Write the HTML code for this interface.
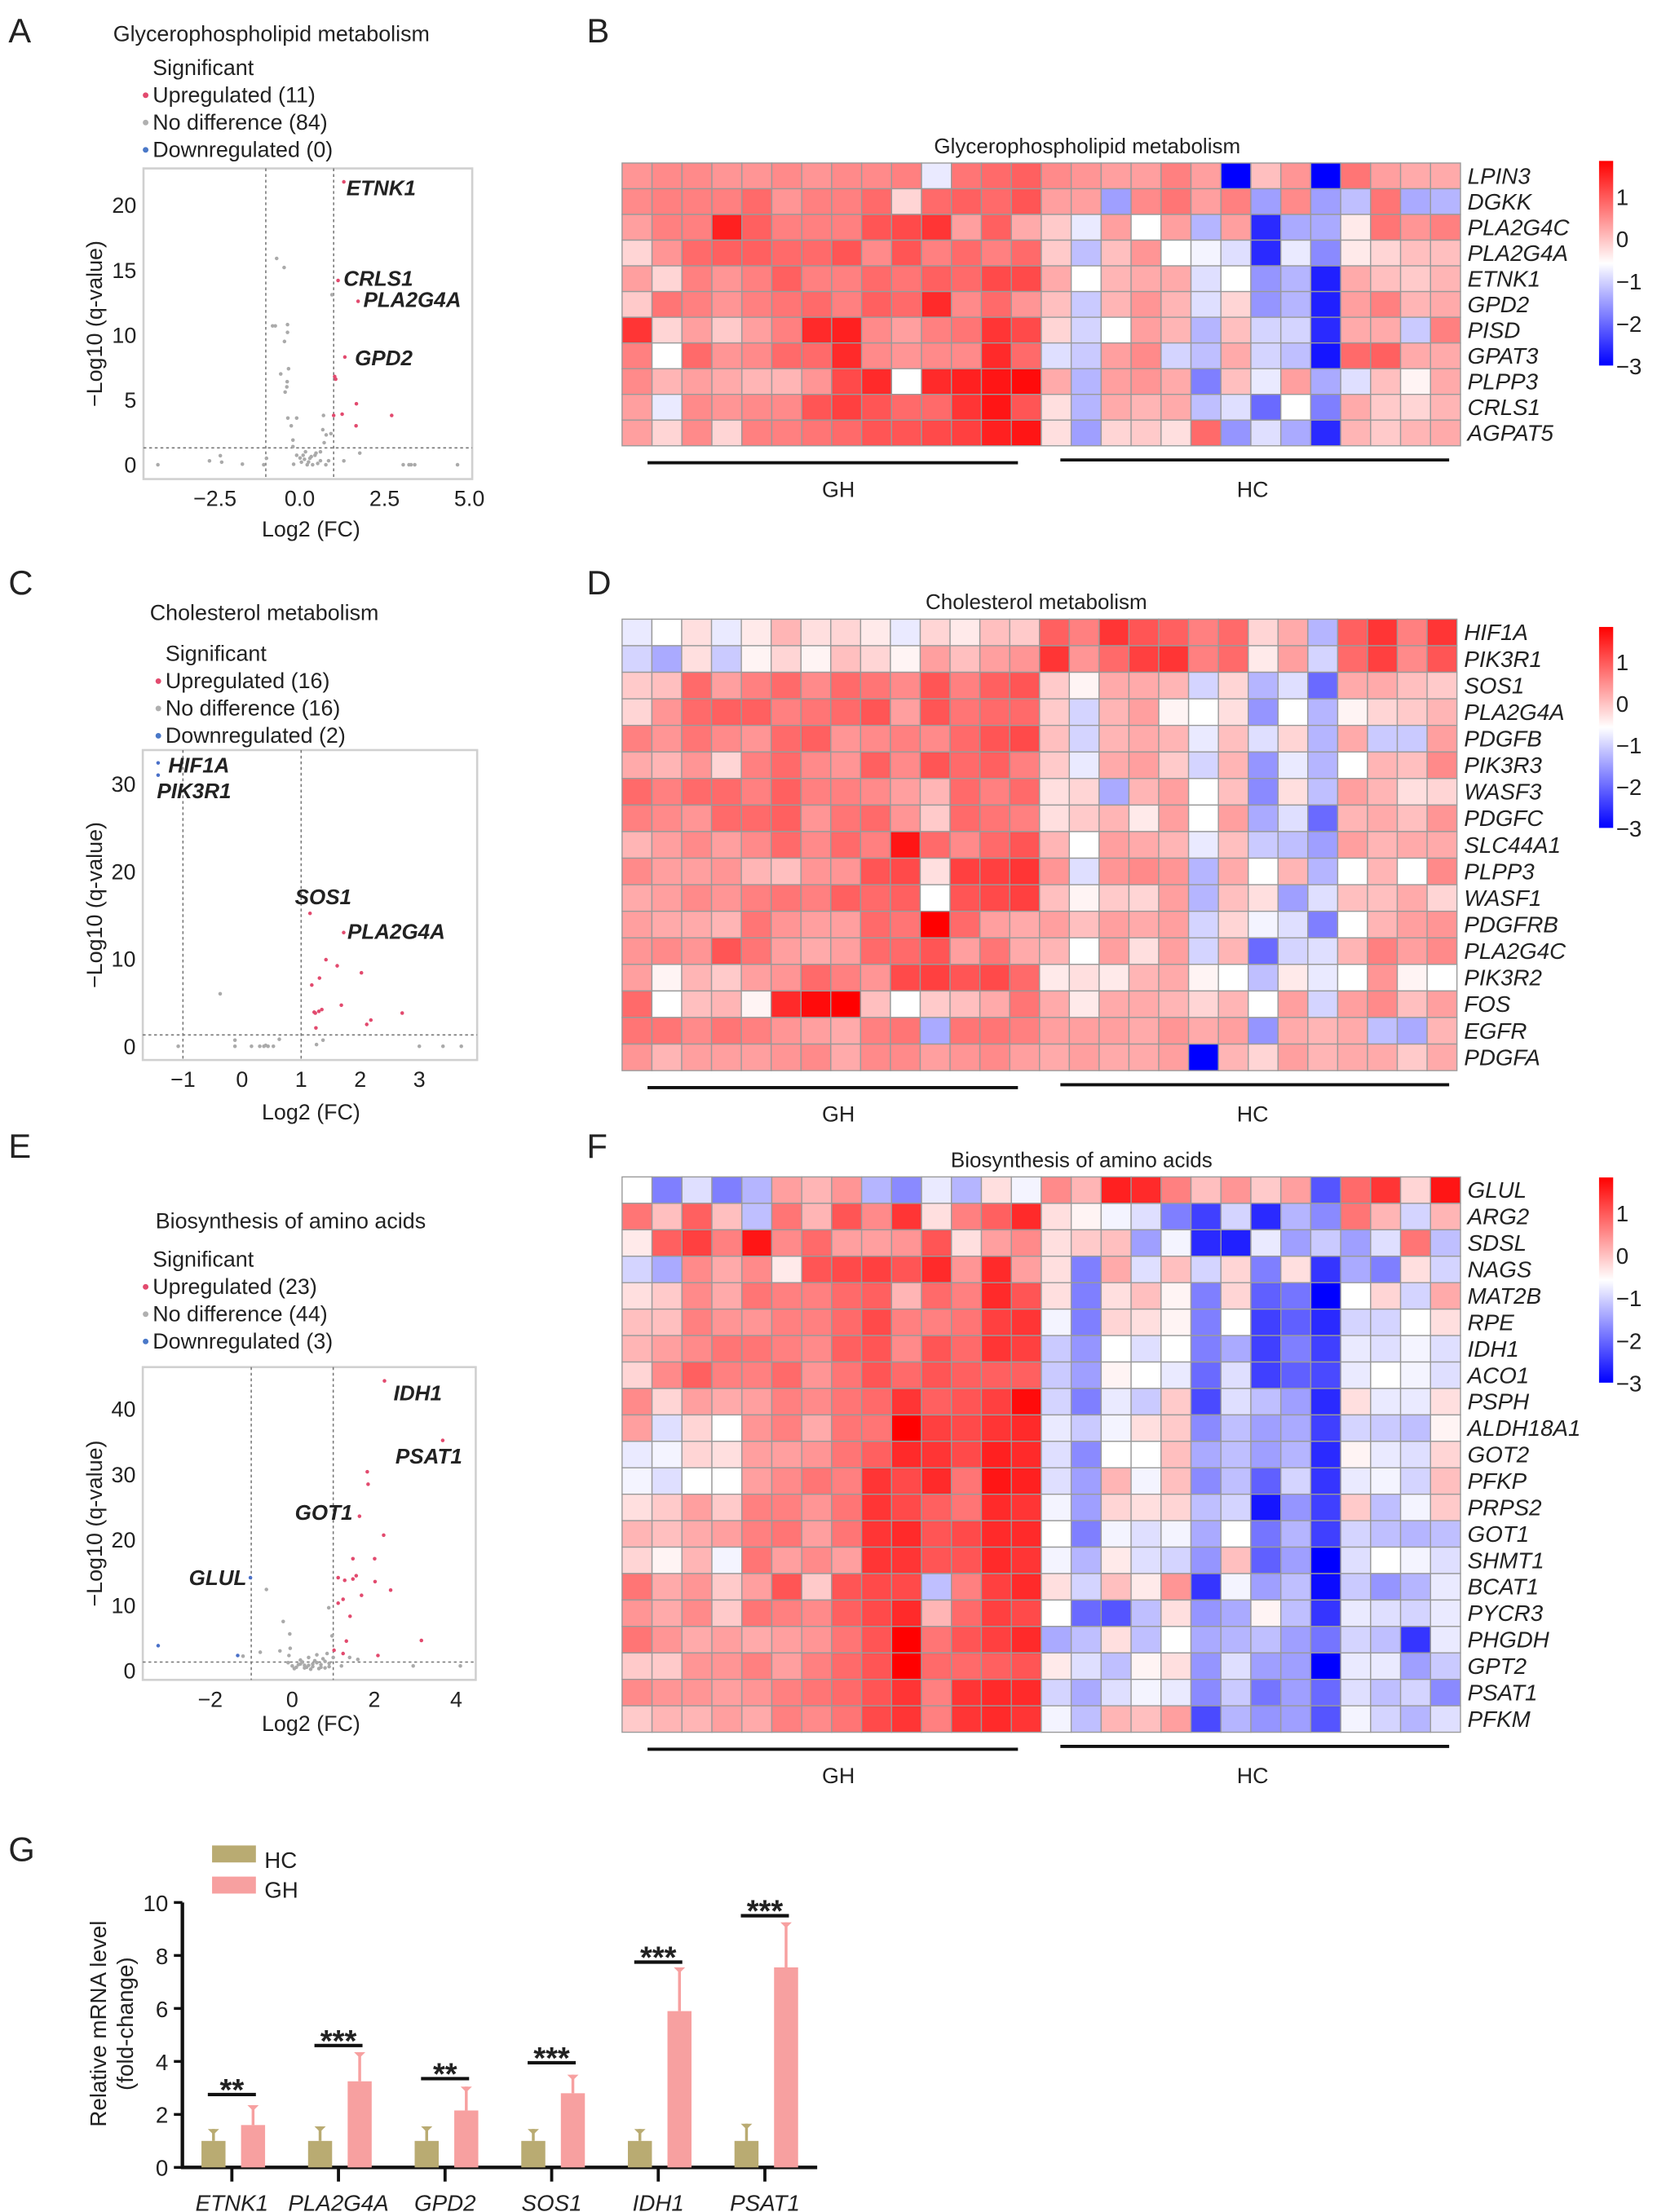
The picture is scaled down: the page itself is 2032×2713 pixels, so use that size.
<!DOCTYPE html>
<html><head><meta charset="utf-8"><title>Metabolism figure</title>
<style>
html,body{margin:0;padding:0;background:#fff;}
svg{display:block;}
text{font-family:"Liberation Sans",Arial,sans-serif;fill:#222;}
</style></head>
<body>
<svg id="fig" xmlns="http://www.w3.org/2000/svg" width="2032" height="2713" viewBox="0 0 1172 1563" preserveAspectRatio="none">
<defs>
<linearGradient id="cbar" x1="0" y1="0" x2="0" y2="1">
<stop offset="0" stop-color="#ff0000"/><stop offset="0.5" stop-color="#ffffff"/><stop offset="1" stop-color="#0000ff"/>
</linearGradient>
</defs>
</svg>
<script>
// ---------------- DATA ----------------
// Panel A volcano (log2FC, -log10 q)
const aUpX=[1.30,1.13,1.72,1.33,1.03,1.06,1.67,1.00,1.25,2.71,1.66];
const aUpY=[21.8,14.2,12.6,8.3,6.8,6.6,4.7,3.8,3.9,3.8,3.0];
const aNsX=[-0.68,-0.46,-0.80,-0.72,-0.36,-0.36,-0.45,0.95,-0.33,-0.56,-0.37,-0.38,-0.43,-0.35,-0.09,-0.25,0.70,0.68,0.78,0.92,0.72,-0.20,-0.20,0.17,0.61,1.77,-0.09,0.01,0.14,0.26,0.34,0.45,0.53,0.61,0.22,0.38,0.77,0.85,-0.18,0.10,-4.18,-2.66,-2.34,-2.30,-1.69,-1.06,-0.98,1.30,3.05,3.22,3.28,3.39,4.65,0.30,0.05,0.48];
const aNsY=[15.9,15.2,10.7,10.7,10.8,10.2,9.5,13.1,7.4,7.0,6.4,6.0,5.6,3.6,3.6,3.0,3.8,2.7,2.3,2.4,1.7,1.9,1.4,1.0,1.0,0.9,0.73,0.52,0.42,0.21,0.63,0.73,0.1,0.31,0.0,0.0,0.0,0.31,0.04,0.73,0,0.3,0.7,0.2,0.05,0,0.5,0.3,0,0,0,0,0,0.5,0.2,0.9];
// Panel C volcano
const cUpX=[1.15,1.72,1.42,1.61,2.02,1.31,1.18,1.68,1.22,1.35,2.71,2.18,2.11,1.25,1.30,1.24];
const cUpY=[15.2,13.0,9.9,9.2,8.4,7.8,7.0,4.7,3.9,4.2,3.8,3.0,2.5,2.1,4.0,3.8];
const cNsX=[-0.37,-1.08,-0.12,-0.12,0.16,0.37,0.44,0.53,0.63,1.26,1.37,3.0,3.4,3.71,0.40,0.30];
const cNsY=[6.0,0,0.7,0,0,0,0,0,0.8,0.2,0.7,0,0,0,0.1,0];
const cDnX=[-1.42,-1.42];
const cDnY=[32.4,31.0];
// Panel E volcano
const eUpX=[2.25,3.67,1.83,1.85,1.64,2.23,1.48,2.01,1.56,1.12,1.28,1.48,2.02,2.40,1.69,1.24,1.12,1.41,3.15,1.32,1.24,1.02,2.09];
const eUpY=[44.3,35.2,30.4,28.5,23.6,20.7,17.1,17.1,14.5,14.2,13.8,14.0,13.6,12.3,11.5,10.9,10.3,8.3,4.6,4.5,2.6,3.1,2.3];
const eNsX=[-0.63,0.89,-0.22,-0.06,0.97,-0.78,-0.08,-0.05,0.0,0.1,0.2,0.3,0.4,0.5,0.6,0.7,0.8,0.9,0.15,0.35,0.55,0.75,2.95,4.1,1.6,1.2,0.65,0.45,-0.1,1.0,0.25,0.85,-1.2,0.05,0.5,0.7,0.3,0.9,0.6,0.2,0.4,0.8,-0.3,1.4];
const eNsY=[12.4,9.6,7.5,5.6,5.3,2.8,2.3,3.4,0.7,0.5,1.0,0.4,0.8,0.6,1.2,0.9,1.4,0.6,0.9,0.5,1.5,1.8,0.7,0.7,1.7,0.7,0.3,0.2,1.2,2.0,1.3,2.6,2.2,0.3,1.0,0.5,0.8,1.1,2.4,1.6,2.0,0.4,3.0,2.0];
const eDnX=[-3.27,-1.33,-1.02];
const eDnY=[3.8,2.3,14.2];

// Panel B heatmap
const bGenes=["LPIN3","DGKK","PLA2G4C","PLA2G4A","ETNK1","GPD2","PISD","GPAT3","PLPP3","CRLS1","AGPAT5"];
const bValues=[
[0.4,0.5,0.5,0.4,0.4,0.5,0.4,0.5,0.5,0.6,-0.8,0.7,0.8,0.9, 0.5,0.4,0.3,0.3,0.6,0.3,-3.0,0.0,0.4,-3.0,0.7,0.3,0.2,0.2],
[0.5,0.6,0.6,0.6,0.8,0.4,0.6,0.6,0.8,-0.2,0.8,0.9,0.8,1.0, 0.3,0.3,-1.5,0.5,0.7,0.3,0.6,-1.5,0.5,-1.5,-1.2,0.7,-1.4,-1.3],
[0.3,0.6,0.6,1.5,0.9,0.6,0.6,0.6,1.0,1.1,1.3,0.3,0.9,0.2, -0.1,-0.8,0.3,-0.6,0.3,-1.3,0.3,-2.6,-1.4,-1.4,-0.4,0.7,0.4,0.6],
[-0.2,0.4,0.8,0.9,0.9,0.8,0.8,1.0,0.5,1.0,0.6,0.8,0.6,0.8, -0.1,-1.2,0.0,0.4,-0.6,-0.7,-0.9,-2.6,-0.8,-1.7,-0.4,-0.2,0.0,0.0],
[0.3,-0.2,0.6,0.4,0.6,0.9,0.6,0.6,0.8,0.7,0.9,0.8,1.1,1.1, 0.2,-0.6,0.1,0.2,0.2,-0.9,-0.6,-1.6,-1.3,-2.7,0.2,0.0,-0.1,0.1],
[-0.1,0.7,0.6,0.4,0.6,0.7,0.8,0.6,0.9,0.8,1.4,0.5,0.8,0.4, 0.0,-1.1,0.1,0.4,0.1,-0.9,-0.2,-1.6,-1.3,-2.7,0.3,0.6,0.1,0.2],
[1.3,-0.2,0.3,-0.1,0.3,0.6,1.4,1.5,0.5,0.3,0.6,0.7,1.3,1.1, -0.2,-1.0,-0.6,0.3,0.1,-1.3,0.0,-1.0,-1.0,-2.6,0.2,0.2,-1.1,0.6],
[0.6,-0.6,0.8,0.4,0.5,0.8,0.8,1.4,0.5,0.4,0.5,0.5,1.4,0.8, -0.9,-1.1,0.3,0.5,-1.0,-1.2,0.2,-1.0,-1.2,-2.8,0.8,0.9,0.2,0.2],
[0.5,0.1,0.3,0.2,0.1,0.1,0.4,1.1,1.4,-0.6,1.4,1.5,1.6,1.7, 0.2,-1.3,0.3,0.4,0.2,-1.8,0.0,-0.8,0.3,-1.4,-0.9,0.0,-0.5,0.2],
[0.3,-0.8,0.5,0.4,0.5,0.5,1.0,1.2,1.0,0.8,0.8,1.3,1.6,1.0, -0.3,-1.3,0.2,0.1,0.2,-1.2,-0.9,-2.0,-0.6,-1.8,0.2,-0.1,-0.2,0.1],
[0.3,-0.2,0.5,-0.2,0.6,0.6,0.7,0.8,1.0,1.0,1.1,1.2,1.5,1.6, -0.3,-1.5,-0.2,-0.1,-0.3,0.8,-1.6,-0.9,-1.4,-2.6,0.1,-0.1,0.1,0.2]];

// Panel D heatmap
const dGenes=["HIF1A","PIK3R1","SOS1","PLA2G4A","PDGFB","PIK3R3","WASF3","PDGFC","SLC44A1","PLPP3","WASF1","PDGFRB","PLA2G4C","PIK3R2","FOS","EGFR","PDGFA"];
const dValues=[
[-0.8,-0.6,-0.3,-0.8,-0.4,0.1,-0.3,-0.2,-0.4,-0.8,-0.2,-0.4,0.0,-0.1, 0.9,0.6,1.3,1.0,0.9,0.6,0.8,-0.2,0.2,-1.3,0.9,1.3,0.6,1.3],
[-1.0,-1.4,-0.3,-1.1,-0.5,-0.2,-0.5,0.0,-0.2,-0.5,0.3,0.0,0.3,0.4, 1.3,0.4,0.8,1.2,1.3,0.6,0.8,-0.4,0.3,-1.0,0.8,1.2,0.5,1.0],
[-0.1,0.0,0.8,0.3,0.6,0.8,0.5,0.8,0.7,0.5,1.0,0.6,0.9,1.0, -0.1,-0.5,0.2,0.2,0.1,-1.0,-0.2,-1.3,-0.9,-2.0,0.2,0.2,0.0,-0.1],
[-0.2,0.4,0.8,0.9,0.9,0.6,0.7,0.8,1.0,0.3,1.0,0.7,0.8,0.8, -0.1,-1.0,0.1,0.3,-0.5,-0.6,-0.3,-1.6,-0.6,-1.3,-0.5,-0.2,-0.1,0.1],
[0.6,0.4,0.7,0.5,0.4,0.8,0.9,0.4,0.5,0.6,0.5,0.8,1.0,1.1, 0.0,-1.0,0.1,0.2,0.1,-0.8,0.0,-0.9,-0.2,-1.3,0.2,-1.1,-1.1,0.3],
[0.2,0.1,0.4,-0.2,0.6,0.8,0.5,0.4,0.9,0.5,1.0,0.8,0.9,0.6, -0.1,-0.8,0.2,0.3,-0.1,-1.0,0.1,-1.6,-0.8,-1.3,-0.6,0.1,0.0,0.5],
[0.8,0.6,0.8,0.8,0.6,0.9,0.6,0.6,0.5,0.3,0.1,0.8,0.6,0.8, -0.3,-0.2,-1.4,0.1,0.3,-0.6,0.0,-1.7,-0.3,-1.2,0.3,0.1,-0.3,-0.2],
[0.6,0.5,0.4,0.8,0.8,0.9,0.4,0.7,0.8,0.4,-0.1,0.8,0.7,0.6, -0.3,-0.1,0.1,-0.4,0.3,-0.6,0.3,-1.4,-0.9,-2.0,0.1,0.2,0.0,0.4],
[0.1,0.3,0.5,0.3,0.5,0.8,0.5,0.8,0.6,1.6,0.8,0.5,0.8,1.0, 0.1,-0.6,0.3,0.2,0.1,-0.8,0.0,-1.1,-1.2,-1.5,0.3,0.1,0.2,0.2],
[0.5,0.3,0.3,0.4,0.1,0.0,0.4,0.4,1.0,1.1,-0.3,1.2,1.2,1.3, 0.4,-0.9,0.4,0.5,0.4,-1.3,0.2,-0.6,0.1,-1.3,-0.6,0.1,-0.6,0.5],
[0.2,0.3,0.5,0.4,0.6,0.7,0.6,0.9,0.8,0.9,-0.6,1.0,1.1,1.2, 0.0,-0.5,-0.1,-0.2,0.3,-1.3,0.0,-0.3,-1.5,-0.9,0.0,0.0,0.2,-0.2],
[0.3,0.2,0.2,0.1,0.7,0.4,0.3,0.3,0.8,0.7,1.8,0.8,0.3,0.2, 0.3,0.0,0.3,0.2,0.3,-1.0,-0.2,-0.7,-0.9,-1.8,-0.6,0.1,0.3,0.4],
[0.4,0.5,0.4,1.0,0.7,0.3,0.2,0.3,0.8,0.8,1.0,0.3,0.7,0.2, 0.1,-0.6,0.3,-0.3,0.3,-1.0,0.1,-2.0,-1.0,-0.9,0.1,0.6,0.3,0.5],
[0.3,-0.5,0.1,-0.1,0.3,0.4,0.8,0.6,0.4,1.1,1.2,1.0,1.1,0.8, -0.4,-0.3,-0.4,0.1,0.2,-0.5,-0.6,-1.2,-0.4,-0.8,-0.6,0.4,-0.5,-0.6],
[0.8,-0.6,0.0,0.1,-0.5,1.4,1.7,1.8,0.0,-0.6,-0.1,0.0,0.2,0.7, 0.2,-0.4,0.2,0.2,0.1,-0.2,0.1,-0.6,0.3,-1.0,0.3,0.5,0.0,0.3],
[0.7,0.7,0.5,0.7,0.6,0.4,0.3,0.2,0.6,0.7,-1.4,0.7,0.7,0.6, 0.3,0.3,0.3,0.2,0.4,0.2,0.3,-1.6,0.2,0.1,0.2,-1.2,-1.4,0.1],
[0.4,0.1,0.3,0.3,0.3,0.4,0.5,0.2,0.5,0.5,0.3,0.4,0.5,0.3, 0.2,0.3,0.2,0.2,0.3,-3.0,0.1,-0.2,0.3,0.1,0.2,0.2,-0.1,0.2]];

// Panel F heatmap
const fGenes=["GLUL","ARG2","SDSL","NAGS","MAT2B","RPE","IDH1","ACO1","PSPH","ALDH18A1","GOT2","PFKP","PRPS2","GOT1","SHMT1","BCAT1","PYCR3","PHGDH","GPT2","PSAT1","PFKM"];
const fValues=[
[-0.6,-1.8,-0.9,-1.8,-1.3,0.3,0.1,0.4,-1.3,-1.7,-0.8,-1.3,-0.3,-0.7, 0.5,0.1,1.5,1.4,0.6,0.0,0.4,-0.1,0.3,-2.2,0.8,1.3,-0.2,1.6],
[0.7,0.0,0.9,0.0,-1.2,0.7,0.1,1.0,0.5,1.3,-0.3,0.6,0.9,1.4, -0.3,-0.5,-0.7,-0.9,-1.8,-2.4,-1.0,-2.6,-1.3,-1.7,0.7,0.1,-1.0,0.1],
[-0.4,0.9,1.2,0.6,1.6,0.5,0.8,0.3,0.3,0.4,1.0,-0.3,0.3,0.5, -0.3,-0.1,0.0,-1.5,-0.7,-2.6,-2.7,-0.8,-1.5,-1.1,-1.5,-0.9,0.7,-1.2],
[-1.0,-1.4,0.5,0.2,0.5,-0.4,1.0,1.1,1.2,1.0,1.4,0.4,1.4,0.3, -0.3,-1.8,0.2,-0.9,0.0,-1.0,-0.2,-1.8,-0.3,-2.5,-1.4,-1.8,-0.3,-1.0],
[-0.3,-0.1,0.5,0.2,0.7,0.6,0.6,0.8,0.9,0.1,0.8,0.6,1.4,1.0, -0.3,-1.8,-0.3,0.0,-0.5,-1.8,-0.2,-2.1,-1.9,-3.0,-0.6,-0.2,-1.0,0.2],
[0.0,0.0,0.6,0.4,0.4,0.6,0.6,0.8,1.1,0.6,0.6,0.7,1.2,1.3, -0.7,-1.8,-0.2,-0.3,-0.5,-1.8,-0.6,-2.4,-2.1,-2.6,-1.0,-1.0,-0.6,-0.3],
[0.1,0.3,0.5,0.7,0.7,0.6,0.5,0.9,1.0,0.5,1.0,0.8,1.3,1.2, -1.1,-1.6,-0.6,-0.9,-0.6,-1.8,-1.4,-2.4,-1.8,-2.4,-0.8,-0.9,-0.7,-0.9],
[-0.2,0.5,0.9,0.6,0.6,0.8,0.4,0.7,1.0,0.8,1.0,0.9,0.9,0.9, -1.1,-1.5,-0.5,-0.6,-0.8,-2.0,-0.9,-2.4,-2.1,-2.3,-0.8,-0.6,-0.7,-0.9],
[0.5,-0.2,0.3,0.2,0.3,0.6,0.5,0.7,0.8,1.3,0.9,1.0,1.2,1.7, -1.0,-1.8,-0.8,-1.1,-0.1,-2.3,-0.9,-1.2,-1.5,-2.6,-0.3,-0.8,-0.8,-0.3],
[0.3,-0.9,-0.2,-0.6,0.4,0.6,0.2,0.7,0.7,1.8,1.2,1.1,1.3,1.4, -0.8,-1.1,-0.7,-0.3,-0.1,-1.7,-1.2,-1.5,-1.4,-2.4,-1.0,-1.1,-1.2,-0.5],
[-0.8,-0.7,-0.2,-0.3,0.3,0.3,0.4,0.7,0.9,1.4,1.3,1.1,1.5,1.4, -0.9,-1.7,-0.6,-0.6,0.0,-1.4,-1.2,-1.5,-1.3,-2.6,-0.5,-0.8,-0.9,-0.2],
[-0.7,-0.9,-0.6,-0.6,0.3,0.5,0.7,0.6,1.3,1.1,1.4,0.7,1.6,1.5, -0.9,-1.5,0.1,-0.7,0.0,-1.7,-1.2,-2.1,-1.0,-2.5,-0.8,-0.7,-1.0,0.0],
[-0.3,-0.1,0.3,-0.1,0.6,0.6,0.4,0.7,1.3,1.1,0.9,0.7,1.4,1.3, -0.7,-1.5,-0.2,-0.3,-0.2,-1.2,-1.0,-2.8,-1.6,-2.4,-0.1,-1.2,-0.7,-0.1],
[0.1,0.0,0.2,0.3,0.6,0.7,0.3,0.7,1.3,1.4,1.0,1.1,1.4,1.4, -0.6,-1.8,-0.7,-0.9,-0.7,-1.4,-0.6,-1.9,-1.3,-2.4,-1.0,-1.2,-1.3,-1.2],
[-0.2,-0.5,0.1,-0.7,0.7,0.3,0.5,0.3,1.3,1.3,1.0,1.0,1.4,1.3, -0.7,-1.3,-0.4,-0.9,-1.0,-1.6,0.0,-2.1,-1.5,-3.0,-0.9,-0.6,-0.7,-0.9],
[0.7,0.2,0.4,-0.1,0.3,1.0,-0.1,1.0,1.1,1.1,-1.2,0.6,1.2,1.4, -0.3,-1.0,0.0,-0.4,0.4,-2.5,-0.7,-1.5,-1.2,-2.9,-1.1,-1.6,-1.3,-0.8],
[0.4,0.2,0.5,-0.1,0.7,0.6,0.5,0.9,1.1,1.4,0.1,0.8,1.2,1.1, -0.6,-2.0,-2.2,-1.2,-0.3,-1.6,-1.4,-0.5,-1.2,-2.5,-0.8,-0.9,-1.0,-0.8],
[0.7,0.4,0.2,0.3,0.2,0.3,0.4,0.7,1.0,1.8,0.7,1.0,1.2,1.4, -1.4,-1.2,-0.3,-1.2,-0.6,-1.4,-1.3,-1.2,-1.5,-1.9,-1.0,-1.2,-2.5,-0.8],
[-0.1,-0.1,0.4,0.4,0.6,0.3,0.6,0.8,1.0,1.8,0.8,0.8,0.9,1.0, -0.4,-0.9,-1.2,-0.5,-0.3,-1.6,-0.9,-1.5,-1.5,-3.0,-0.8,-0.8,-1.5,-1.1],
[0.5,0.4,0.4,0.3,0.4,0.6,0.7,0.8,1.0,1.3,0.6,1.3,1.4,1.4, -1.0,-1.4,-0.9,-0.7,-0.8,-1.7,-1.1,-1.9,-1.5,-2.0,-0.9,-1.2,-1.0,-1.7],
[-0.1,0.1,0.1,0.3,0.2,0.6,0.5,0.7,1.1,1.3,0.6,1.3,1.4,1.3, -0.7,-1.2,0.1,0.0,0.3,-2.3,-1.3,-1.6,-1.5,-2.2,-0.7,-1.0,-1.3,-0.9]];

// Panel G bar chart
const gGenes=["ETNK1","PLA2G4A","GPD2","SOS1","IDH1","PSAT1"];
const gHC=[1,1,1,1,1,1];
const gHCerr=[0.45,0.55,0.55,0.45,0.45,0.65];
const gGH=[1.6,3.25,2.15,2.8,5.9,7.55];
const gGHerr=[0.75,1.1,0.9,0.7,1.65,1.7];
const gSig=["**","***","**","***","***","***"];
const gSigLevel=[2.75,4.6,3.35,3.95,7.75,9.5];
const gTicks=[0,2,4,6,8,10];

// ---------------- DRAW ----------------
const NS="http://www.w3.org/2000/svg";
const svg=document.getElementById('fig');
function mk(tag,attrs,parent){const e=document.createElementNS(NS,tag);for(const k in attrs)e.setAttribute(k,attrs[k]);(parent||svg).appendChild(e);return e;}
function txt(str,attrs,parent){const e=mk('text',attrs,parent);e.textContent=str;return e;}
function grp(name){const g=mk('g',{});return g;}

function zcol(v){
  if(v>=-0.6){const t=Math.min(1,(v+0.6)/2.4);const g=Math.round(255*(1-t));return 'rgb(255,'+g+','+g+')';}
  const t=Math.min(1,(-0.6-v)/2.4);const g=Math.round(255*(1-t));return 'rgb('+g+','+g+',255)';
}

// panel letters
[["A",6,30],["B",415,30],["C",6,420],["D",415,420],["E",6,818],["F",415,818],["G",6,1315]].forEach(p=>{
  const t=txt(p[0],{x:p[1],y:p[2],'font-size':24});
  
  
});

function volcano(cfg){
  const g=grp(cfg.name);
  const xs=v=>cfg.x0+cfg.xu*v, ys=v=>cfg.y0-cfg.yu*v;
  const title=txt(cfg.title,{x:cfg.tx,y:cfg.ty,'font-size':15.5},g);
  
  
  const lg=[["Significant",null],["Upregulated ("+cfg.nUp+")","#e24a6e"],["No difference  ("+cfg.nNs+")","#b0b0b0"],["Downregulated ("+cfg.nDn+")","#4a78c8"]];
  lg.forEach((l,i)=>{
    const y=cfg.ly+i*19.3;
    const t=txt(l[0],{x:cfg.lx,y:y,'font-size':15.5},g);
    
    
    if(l[1]){const c=mk('circle',{cx:cfg.lx-5,cy:y-5,r:2,fill:l[1]},g);
      
      }
  });
  const box=mk('rect',{x:cfg.bx0,y:cfg.by0,width:cfg.bx1-cfg.bx0,height:cfg.by1-cfg.by0,fill:'#fff',stroke:'#d0d0d0','stroke-width':1.5},g);
  
  
  [-1,1].forEach(v=>{const l=mk('line',{x1:xs(v),x2:xs(v),y1:cfg.by0,y2:cfg.by1,stroke:'#777','stroke-width':0.9,'stroke-dasharray':'2,2'},g);
    
    });
  const h=mk('line',{x1:cfg.bx0,x2:cfg.bx1,y1:ys(1.3),y2:ys(1.3),stroke:'#777','stroke-width':0.9,'stroke-dasharray':'2,2'},g);
  
  
  cfg.yt.forEach(v=>{const t=txt(String(v),{x:cfg.bx0-5,y:ys(v)+5.5,'font-size':15.5,'text-anchor':'end',fill:'#333'},g);
    
    });
  cfg.xt.forEach((v,i)=>{const t=txt(cfg.xtl[i],{x:xs(v),y:cfg.by1+19,'font-size':15.5,'text-anchor':'middle',fill:'#333'},g);
    
    });
  const xt=txt("Log2 (FC)",{x:220,y:cfg.xtitleY,'font-size':15.5,'text-anchor':'middle',fill:'#333'},g);
  
  
  const cy=(cfg.by0+cfg.by1)/2;
  const yt=txt("\u2212Log10 (q-value)",{x:0,y:0,'font-size':15.5,'text-anchor':'middle',transform:'translate(72,'+cy+') rotate(-90)',fill:'#333'},g);
  
  
  const series=[[cfg.nsX,cfg.nsY,'#aaaaaa','point-nodiff'],[cfg.upX,cfg.upY,'#e24a6e','point-up'],[cfg.dnX||[],cfg.dnY||[],'#4a70c8','point-down']];
  series.forEach(s=>{for(let i=0;i<s[0].length;i++){
    const c=mk('circle',{cx:xs(s[0][i]),cy:ys(s[1][i]),r:1.3,fill:s[2]},g);
    
    
  }});
  cfg.labels.forEach(l=>{const t=txt(l[0],{x:l[1],y:l[2],'font-size':15,'font-weight':'bold','font-style':'italic',fill:'#111'},g);
    
    });
}

volcano({name:'volcano-a',title:'Glycerophospholipid metabolism',tx:80,ty:29,lx:108,ly:53,nUp:11,nNs:84,nDn:0,
  bx0:101.5,bx1:334,by0:119,by1:338.5,x0:212,xu:24,y0:328.4,yu:9.17,yt:[0,5,10,15,20],xt:[-2.5,0,2.5,5],xtl:["\u22122.5","0.0","2.5","5.0"],xtitleY:379,
  upX:aUpX,upY:aUpY,nsX:aNsX,nsY:aNsY,labels:[["ETNK1",245,138],["CRLS1",243,202],["PLA2G4A",257,217],["GPD2",251,258]]});
volcano({name:'volcano-c',title:'Cholesterol metabolism',tx:106,ty:438,lx:117,ly:467,nUp:16,nNs:16,nDn:2,
  bx0:101,bx1:337.5,by0:530,by1:749,x0:171.2,xu:41.8,y0:739.3,yu:6.18,yt:[0,10,20,30],xt:[-1,0,1,2,3],xtl:["\u22121","0","1","2","3"],xtitleY:791,
  upX:cUpX,upY:cUpY,nsX:cNsX,nsY:cNsY,dnX:cDnX,dnY:cDnY,labels:[["HIF1A",119,546],["PIK3R1",111,564],["SOS1",208.6,639],["PLA2G4A",245.7,663.5]]});
volcano({name:'volcano-e',title:'Biosynthesis of amino acids',tx:110,ty:868,lx:108,ly:895,nUp:23,nNs:44,nDn:3,
  bx0:101,bx1:336.5,by0:966,by1:1187,x0:206.7,xu:29,y0:1180.4,yu:4.62,yt:[0,10,20,30,40],xt:[-2,0,2,4],xtl:["\u22122","0","2","4"],xtitleY:1223,
  upX:eUpX,upY:eUpY,nsX:eNsX,nsY:eNsY,dnX:eDnX,dnY:eDnY,labels:[["IDH1",278.4,989.4],["PSAT1",279.7,1034],["GOT1",208.6,1074],["GLUL",133.6,1120]]});

function heat(cfg){
  const g=grp(cfg.name);
  const nr=cfg.genes.length, nc=28;
  const cw=(cfg.x1-cfg.x0)/nc, ch=(cfg.y1-cfg.y0)/nr;
  const t=txt(cfg.title,{x:cfg.titleX,y:cfg.y0-7,'font-size':15,'text-anchor':'middle'},g);
  
  
  for(let r=0;r<nr;r++){
    for(let c=0;c<nc;c++){
      const cell=mk('rect',{x:cfg.x0+c*cw,y:cfg.y0+r*ch,width:cw,height:ch,fill:zcol(cfg.values[r][c]),stroke:'#9a9a9a','stroke-width':0.8},g);
      
      
    }
    const lb=txt(cfg.genes[r],{x:cfg.x1+5,y:cfg.y0+r*ch+ch/2+5.5,'font-size':16,'font-style':'italic'},g);
    
    
  }
  const cb=mk('rect',{x:1131,y:cfg.cbTop,width:10,height:cfg.cbBot-cfg.cbTop,fill:'url(#cbar)'},g);
  
  
  const unit=(cfg.cbBot-cfg.cbTop)/4.84;
  [1,0,-1,-2,-3].forEach(v=>{const y=cfg.cbTop+(1.84-v)*unit;
    const l=txt(v<0?'\u2212'+(-v):String(v),{x:1143,y:y+6,'font-size':16},g);
    
    });
  const gl=mk('line',{x1:458,x2:720,y1:cfg.y1+12,y2:cfg.y1+12,stroke:'#111','stroke-width':2.2},g);
  
  
  const hl=mk('line',{x1:750,x2:1025,y1:cfg.y1+10,y2:cfg.y1+10,stroke:'#111','stroke-width':2.2},g);
  
  
  const gt=txt('GH',{x:593,y:cfg.y1+36,'font-size':15.5,'text-anchor':'middle'},g);
  
  
  const ht=txt('HC',{x:886,y:cfg.y1+36,'font-size':15.5,'text-anchor':'middle'},g);
  
  
}
heat({name:'heatmap-b',title:'Glycerophospholipid metabolism',titleX:769,genes:bGenes,values:bValues,x0:440,x1:1033,y0:115.2,y1:315,cbTop:113.7,cbBot:258.3});
heat({name:'heatmap-d',title:'Cholesterol metabolism',titleX:733,genes:dGenes,values:dValues,x0:440,x1:1030.5,y0:437.5,y1:756.5,cbTop:443,cbBot:585});
heat({name:'heatmap-f',title:'Biosynthesis of amino acids',titleX:765,genes:fGenes,values:fValues,x0:440,x1:1033,y0:831.6,y1:1224,cbTop:832,cbBot:977});

// Panel G
(function(){
  const g=grp('bar-chart-g');
  const ys=v=>1531.5-18.72*v;
  const gx=i=>164+75.4*i;
  const ax=mk('line',{x1:129,x2:129,y1:ys(10),y2:ys(0)+1,stroke:'#111','stroke-width':2.5},g);
  
  
  const xa=mk('line',{x1:128,x2:578,y1:ys(0),y2:ys(0),stroke:'#111','stroke-width':2.5},g);
  
  
  gTicks.forEach(v=>{
    const tk=mk('line',{x1:123,x2:129,y1:ys(v),y2:ys(v),stroke:'#111','stroke-width':2},g);
    
    
    const t=txt(String(v),{x:119,y:ys(v)+6,'font-size':16,'text-anchor':'end'},g);
    
    
  });
  const t1=txt('Relative mRNA level',{x:0,y:0,'font-size':16,'text-anchor':'middle',transform:'translate(75,1430) rotate(-90)'},g);
  
  
  const t2=txt('(fold-change)',{x:0,y:0,'font-size':16,'text-anchor':'middle',transform:'translate(94,1430) rotate(-90)'},g);
  
  
  for(let i=0;i<gGenes.length;i++){
    const c=gx(i), hx=c-13, gxx=c+15, w=17;
    const bars=[[hx,gHC[i],gHCerr[i],'#b9ab72','bar-hc'],[gxx,gGH[i],gGHerr[i],'#f7a0a0','bar-gh']];
    bars.forEach(b=>{
      const el=mk('line',{x1:b[0],x2:b[0],y1:ys(b[1]),y2:ys(b[1]+b[2]),stroke:b[3],'stroke-width':2},g);
      
      
      const cap=mk('path',{d:'M'+(b[0]-4)+','+ys(b[1]+b[2])+' h8 l-4,4 z',fill:b[3]},g);
      
      
      const r=mk('rect',{x:b[0]-w/2,y:ys(b[1]),width:w,height:ys(0)-ys(b[1]),fill:b[3]},g);
      
      
    });
    const tk=mk('line',{x1:c,x2:c,y1:ys(0),y2:ys(0)+10,stroke:'#111','stroke-width':2.2},g);
    
    
    const lb=txt(gGenes[i],{x:c,y:1562,'font-size':16,'font-style':'italic','text-anchor':'middle'},g);
    
    
    const sl=mk('line',{x1:hx-4,x2:gxx+2,y1:ys(gSigLevel[i]),y2:ys(gSigLevel[i]),stroke:'#111','stroke-width':2.4},g);
    
    
    const st=txt(gSig[i],{x:(hx+gxx)/2-1,y:ys(gSigLevel[i])+4,'font-size':22,'font-weight':'bold','text-anchor':'middle'},g);
    
    
  }
  const s1=mk('rect',{x:150,y:1304,width:31,height:12,fill:'#b9ab72'},g);
  
  
  const l1=txt('HC',{x:187,y:1320,'font-size':16},g);
  
  
  const s2=mk('rect',{x:150,y:1326,width:31,height:12,fill:'#f7a0a0'},g);
  
  
  const l2=txt('GH',{x:187,y:1341,'font-size':16},g);
  
  
})();
</script>
</body></html>
